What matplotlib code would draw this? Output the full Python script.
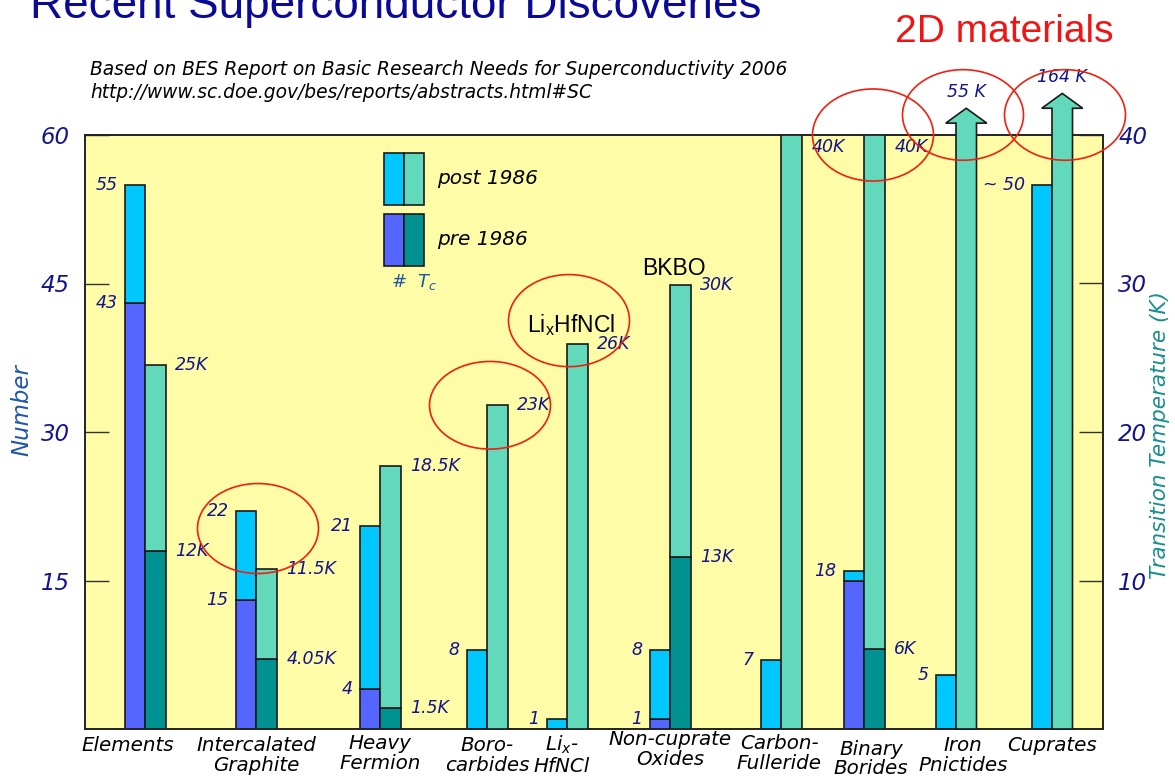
import matplotlib
matplotlib.use('Agg')
import matplotlib.pyplot as plt
from matplotlib.patches import Ellipse, Rectangle, FancyArrow

# categories (x) and values
categories = ['Elements', 'Intercalated\nGraphite', 'Heavy\nFermion', 'Boro-\ncarbides',
              'Li$_x$-\nHfNCl', 'Non-cuprate\nOxides', 'Carbon-\nFulleride',
              'Binary\nBorides', 'Iron\nPnictides', 'Cuprates']
# number of superconductors (left axis)
num_pre = [43, 13, 4, 0, 0, 1, 0, 15, 0, 0]
num_total = [55, 22, 20.5, 8, 1, 8, 7, 16, 5.5, 55]
num_total_labels = ['55', '22', '21', '8', '1', '8', '7', '18', '5', '~ 50']
num_pre_labels = ['43', '15', '4', '', '', '1', '', '', '', '']
# transition temperature (right axis, K)
tc_pre = [12, 4.7, 1.4, 0, 0, 11.6, 0, 5.4, 0, 0]
tc_total = [24.5, 10.8, 17.7, 21.8, 25.9, 29.9, 40, 40, 40, 40]
tc_total_labels = ['25K', '11.5K', '18.5K', '23K', '26K', '30K', '40K', '40K', '55 K', '164 K']
tc_pre_labels = ['12K', '4.05K', '1.5K', '', '', '13K', '', '6K', '', '']
off_scale = [False] * 8 + [True, True]

# layout: group centres (irregular in the original), label nudges, arrow tips
xpos = [0.60, 1.71, 2.95, 4.02, 4.82, 5.85, 6.96, 7.79, 8.71, 9.67]
lab_dx = [-0.17, 0, 0, 0, -0.05, 0, -0.02, 0.07, 0.07, 0]
lab_dy = [0, 0, 0.004, 0, 0.004, 0.01, 0.004, -0.006, 0, 0]
arrow_tip = {8: 41.8, 9: 42.8}
bw = 0.205

c_post_n = '#00C8FF'
c_pre_n = '#5466FF'
c_post_t = '#62D9BA'
c_pre_t = '#009290'
navy = '#14148C'
edge = '#1a1a1a'

fig = plt.figure(figsize=(11.75, 7.82), dpi=100)
ax = fig.add_axes([85 / 1175, 1 - 729 / 782, 1018 / 1175, 594 / 782])
ax.set_facecolor('#FEFCA6')
ax2 = ax.twinx()
ax.set_xlim(0, 10.18)
ax.set_ylim(0, 60)
ax2.set_ylim(0, 40)

ifont = dict(family='DejaVu Sans', style='italic')
vs = 12.5

for i in range(len(categories)):
    xn = xpos[i] - bw / 2
    xt = xpos[i] + bw / 2
    # number bars
    if num_pre[i] > 0:
        ax.bar(xn, num_pre[i], bw, color=c_pre_n, edgecolor=edge, lw=1.2, zorder=3)
    ax.bar(xn, num_total[i] - num_pre[i], bw, bottom=num_pre[i], color=c_post_n,
           edgecolor=edge, lw=1.2, zorder=3)
    # temperature bars
    if off_scale[i]:
        ax2.add_patch(FancyArrow(xt, 0, 0, arrow_tip[i], width=bw, head_width=0.41,
                                 head_length=1.0, length_includes_head=True,
                                 facecolor=c_post_t, edgecolor=edge, lw=1.2,
                                 clip_on=False, zorder=3))
    else:
        if tc_pre[i] > 0:
            ax2.bar(xt, tc_pre[i], bw, color=c_pre_t, edgecolor=edge, lw=1.2, zorder=3)
        ax2.bar(xt, tc_total[i] - tc_pre[i], bw, bottom=tc_pre[i], color=c_post_t,
                edgecolor=edge, lw=1.2, zorder=3)

    # value labels
    ax.annotate(num_total_labels[i], (xpos[i] - bw, num_total[i]), xytext=(-5, 0),
                textcoords='offset points', ha='right', va='center', fontsize=vs,
                color=navy, **ifont)
    if num_pre_labels[i]:
        ax.annotate(num_pre_labels[i], (xpos[i] - bw, num_pre[i]), xytext=(-5, 0),
                    textcoords='offset points', ha='right', va='center', fontsize=vs,
                    color=navy, **ifont)
    if off_scale[i]:
        ax2.annotate(tc_total_labels[i], (xt, arrow_tip[i]), xytext=(0, 5),
                     textcoords='offset points', ha='center', va='bottom', fontsize=vs,
                     color=navy, annotation_clip=False, **ifont)
    else:
        ax2.annotate(tc_total_labels[i], (xpos[i] + bw, min(tc_total[i], 39.2)),
                     xytext=(7, 0), textcoords='offset points', ha='left', va='center',
                     fontsize=vs, color=navy, **ifont)
    if tc_pre_labels[i]:
        ax2.annotate(tc_pre_labels[i], (xpos[i] + bw, tc_pre[i]), xytext=(7, 0),
                     textcoords='offset points', ha='left', va='center', fontsize=vs,
                     color=navy, **ifont)

    # category labels
    ax.text(xpos[i] + lab_dx[i], -0.012 + lab_dy[i], categories[i],
            transform=ax.get_xaxis_transform(), ha='center', va='top', fontsize=14.3,
            color='black', linespacing=1.05, **ifont)

# axes styling
ax.set_xticks([])
ax.set_yticks([15, 30, 45, 60])
ax2.set_yticks([10, 20, 30, 40])
for a in (ax, ax2):
    a.tick_params(axis='y', direction='in', length=17, width=1, colors='#333333',
                  labelcolor=navy, labelsize=16.5, pad=11)
    for lab in a.get_yticklabels():
        lab.set_fontstyle('italic')
    for s in a.spines.values():
        s.set_color('#222222')
        s.set_linewidth(1.2)

fig.text(22 / 1175, 1 - 410 / 782, 'Number', rotation=90, ha='center', va='center',
         fontsize=16.5, color='#1F56A8', **ifont)
fig.text(1160 / 1175, 1 - 435 / 782, 'Transition Temperature (K)', rotation=90,
         ha='center', va='center', fontsize=15.5, color='#1A8F8F', **ifont)

# legend swatches
for y0, cn, ct, txt in [(0.882, c_post_n, c_post_t, 'post 1986'),
                        (0.7795, c_pre_n, c_pre_t, 'pre 1986')]:
    ax.add_patch(Rectangle((0.2937, y0), 0.0196, 0.0875, transform=ax.transAxes,
                           facecolor=cn, edgecolor=edge, lw=1.2, zorder=4))
    ax.add_patch(Rectangle((0.3133, y0), 0.0200, 0.0875, transform=ax.transAxes,
                           facecolor=ct, edgecolor=edge, lw=1.2, zorder=4))
    ax.text(0.346, y0 + 0.044, txt, transform=ax.transAxes, ha='left', va='center',
            fontsize=14.5, color='black', **ifont)
ax.text(0.3233, 0.753, '#  $T_c$', transform=ax.transAxes, ha='center', va='center',
        fontsize=13, color='#1F56A8', **ifont)

# annotations on the chart
ax2.text(4.86, 27.2, 'Li$_\\mathregular{x}$HfNCl', ha='center', va='center', fontsize=16.5,
         family='Liberation Sans', color='black', zorder=5)
ax2.text(5.89, 31.0, 'BKBO', ha='center', va='center', fontsize=16.5,
         family='Liberation Sans', color='black', zorder=5)

for cx, cy, h in [(1.73, 13.5, 6.06), (4.05, 21.8, 5.9), (4.84, 27.5, 6.2),
                  (7.88, 40.0, 6.2), (8.78, 41.35, 6.1), (9.80, 41.35, 6.1)]:
    ax2.add_patch(Ellipse((cx, cy), 1.21, h, facecolor='none', edgecolor='#F02010',
                          lw=1.2, clip_on=False, zorder=6))

# titles
fig.text(30 / 1175, 1 - 18 / 782, 'Recent Superconductor Discoveries', ha='left',
         va='baseline', fontsize=33, family='Liberation Sans', color='#0A0A96')
fig.text(895 / 1175, 1 - 42 / 782, '2D materials', ha='left', va='baseline',
         fontsize=28, family='Liberation Sans', color='#F01414')
fig.text(90 / 1175, 1 - 75 / 782,
         'Based on BES Report on Basic Research Needs for Superconductivity 2006',
         ha='left', va='baseline', fontsize=13.4, color='black', **ifont)
fig.text(90 / 1175, 1 - 98 / 782,
         'http://www.sc.doe.gov/bes/reports/abstracts.html#SC',
         ha='left', va='baseline', fontsize=13.4, color='black', **ifont)

fig.savefig('out.png', dpi=100)
